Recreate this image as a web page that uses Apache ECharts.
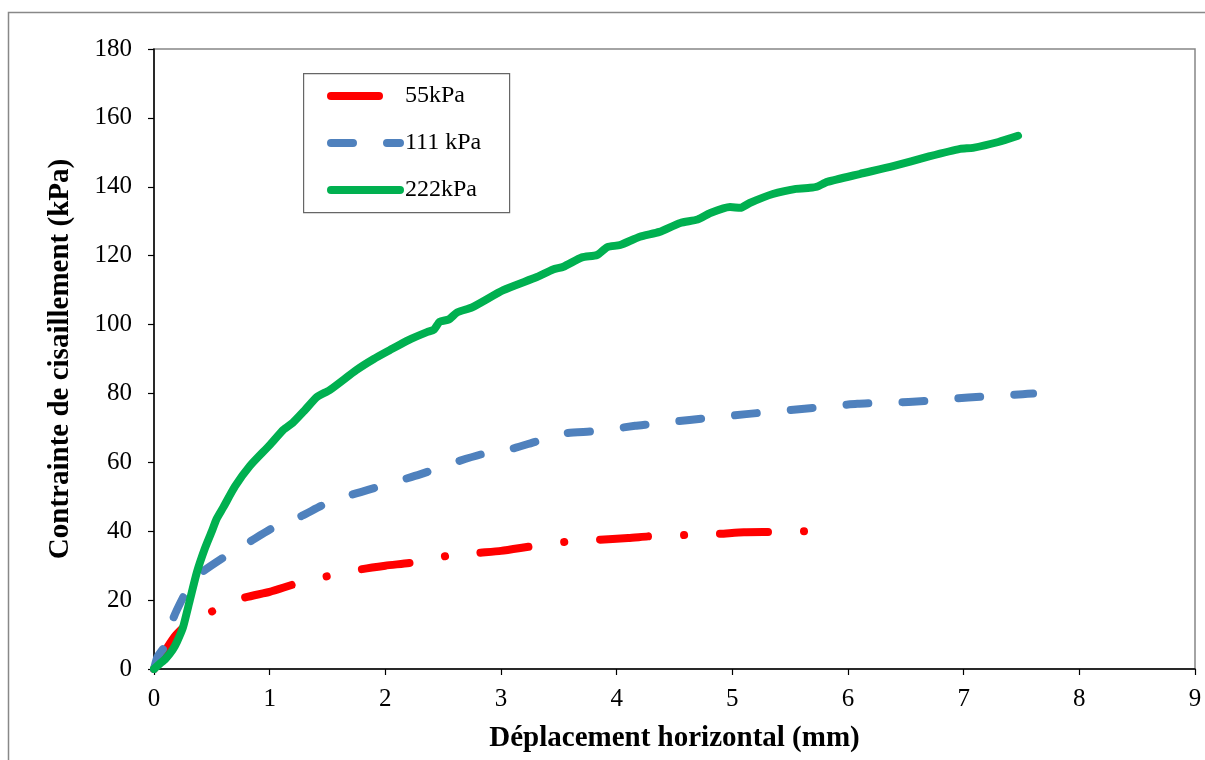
<!DOCTYPE html>
<html>
<head>
<meta charset="utf-8">
<script src="https://cdn.jsdelivr.net/npm/echarts@6/dist/echarts.min.js"></script>
<style>
html,body{margin:0;padding:0;background:#fff;}
#chart{width:1205px;height:760px;}
</style>
</head>
<body>
<div id="chart"></div>
<script>
// Déplacement horizontal (mm) / Contrainte de cisaillement (kPa)
const seriesNames = ['55kPa', '111 kPa', '222kPa'];

const x55 = [0, 0.05, 0.1, 0.18, 0.28, 0.52, 0.77, 1.0, 1.25, 1.51, 1.8, 2.0, 2.26, 2.53, 2.8, 3.0, 3.28, 3.56, 3.83, 4.1, 4.31, 4.59, 4.87, 5.1, 5.35, 5.63];
const y55 = [0, 3, 5.5, 9.5, 12.8, 17, 20.6, 22.4, 25, 27, 29, 30, 31, 32.8, 33.7, 34.3, 35.7, 36.9, 37.5, 38, 38.6, 38.9, 39.2, 39.7, 39.8, 40];

const x111 = [0, 0.03, 0.1, 0.17, 0.27, 0.35, 0.43, 0.63, 0.83, 1.03, 1.28, 1.46, 1.7, 2.0, 2.3, 2.6, 2.85, 3.1, 3.3, 3.57, 3.8, 4.16, 4.27, 4.63, 5.12, 5.6, 6.08, 6.56, 7.04, 7.51, 7.6];
const y111 = [0, 3.5, 7, 15, 22, 26, 28.5, 33, 37, 41, 44.5, 47.6, 50.5, 53.5, 56.5, 60, 62.5, 64, 66, 68.5, 69, 70.6, 71, 72.3, 74, 75.5, 77, 77.6, 78.8, 79.8, 80];

const x222 = [0, 0.05, 0.1, 0.16, 0.2, 0.25, 0.31, 0.37, 0.44, 0.5, 0.54, 0.6, 0.7, 0.83, 1.0, 1.12, 1.2, 1.3, 1.41, 1.52, 1.75, 1.9, 2.04, 2.2, 2.36, 2.42, 2.47, 2.55, 2.62, 2.75, 3.02, 3.31, 3.45, 3.54, 3.7, 3.83, 3.92, 4.03, 4.2, 4.37, 4.55, 4.7, 4.81, 4.98, 5.07, 5.15, 5.35, 5.55, 5.67, 5.73, 5.82, 6.1, 6.39, 6.7, 6.97, 7.08, 7.3, 7.47];
const y222 = [0, 1.5, 3, 5.5, 8, 12, 20, 28, 35, 40, 43.5, 47, 53, 59, 65, 69.5, 71.5, 75, 79, 81, 86.8, 90, 92.6, 95.5, 97.8, 98.5, 100.8, 101.5, 103.5, 105, 110, 113.8, 116, 116.8, 119.5, 120.2, 122.5, 123.1, 125.5, 126.9, 129.5, 130.5, 132.4, 134.1, 133.9, 135.3, 137.9, 139.4, 139.7, 140, 141.4, 143.7, 146, 148.8, 151, 151.3, 153, 154.8];

const xTicks = { min: 0, max: 9, interval: 1 };
const yTicks = { min: 0, max: 180, interval: 20 };

function pairs(xs, ys) { return xs.map((v, i) => [v, ys[i]]); }

const serif = '"Liberation Serif", "Times New Roman", serif';
const chart = echarts.init(document.getElementById('chart'));

chart.setOption({
  animation: false,
  backgroundColor: '#ffffff',
  grid: {
    left: 154, top: 49, right: 10, bottom: 91,
    show: true, borderColor: '#868686', borderWidth: 1.5, backgroundColor: 'transparent'
  },
  graphic: [
    { type: 'rect', left: 6, top: 10, shape: { x: 0, y: 0, width: 1220, height: 780 },
      style: { fill: 'none', stroke: '#888', lineWidth: 1.5 }, silent: true, z: -1 },
    { type: 'rect', left: 303, top: 73, shape: { x: 0, y: 0, width: 206, height: 139 },
      style: { fill: '#fff', stroke: '#666', lineWidth: 1.2 }, silent: true, z: 5 }
  ],
  legend: {
    orient: 'vertical', left: 322, top: 79, z: 10,
    itemWidth: 69, itemHeight: 26, itemGap: 23,
    itemStyle: { opacity: 0 },
    lineStyle: { width: 8, cap: 'round' },
    textStyle: { fontFamily: serif, fontSize: 24, color: '#000' },
    data: seriesNames
  },
  xAxis: {
    type: 'value', min: xTicks.min, max: xTicks.max, interval: xTicks.interval,
    name: 'Déplacement horizontal (mm)', nameLocation: 'middle', nameGap: 55,
    nameTextStyle: { fontFamily: serif, fontSize: 29, fontWeight: 'bold', color: '#000' },
    axisLine: { show: true, onZero: false, lineStyle: { color: '#000', width: 1.5 } },
    axisTick: { show: true, inside: false, length: 6, lineStyle: { color: '#000', width: 1.2 } },
    axisLabel: { fontFamily: serif, fontSize: 25, color: '#000', margin: 18 },
    splitLine: { show: false }
  },
  yAxis: {
    type: 'value', min: yTicks.min, max: yTicks.max, interval: yTicks.interval,
    name: 'Contrainte de cisaillement (kPa)', nameLocation: 'middle', nameGap: 79,
    nameTextStyle: { fontFamily: serif, fontSize: 29, fontWeight: 'bold', color: '#000' },
    axisLine: { show: true, lineStyle: { color: '#000', width: 1.5 } },
    axisTick: { show: true, inside: false, length: 6, lineStyle: { color: '#000', width: 1.2 } },
    axisLabel: { fontFamily: serif, fontSize: 25, color: '#000', margin: 22 },
    splitLine: { show: false }
  },
  series: [
    {
      name: seriesNames[0], type: 'line', data: pairs(x55, y55), showSymbol: false, symbol: 'none',
      smooth: 0.2, itemStyle: { color: '#ff0000' },
      lineStyle: { color: '#ff0000', width: 8, type: [48, 36, 0.1, 36], cap: 'round', join: 'round' },
      z: 3
    },
    {
      name: seriesNames[1], type: 'line', data: pairs(x111, y111), showSymbol: false, symbol: 'none',
      smooth: 0.2, itemStyle: { color: '#4f81bd' },
      lineStyle: { color: '#4f81bd', width: 8, type: [22, 34], cap: 'round', join: 'round' },
      z: 4
    },
    {
      name: seriesNames[2], type: 'line', data: pairs(x222, y222), showSymbol: false, symbol: 'none',
      smooth: 0.2, itemStyle: { color: '#00b050' },
      lineStyle: { color: '#00b050', width: 8, type: 'solid', cap: 'round', join: 'round' },
      z: 5
    }
  ]
});
</script>
</body>
</html>
